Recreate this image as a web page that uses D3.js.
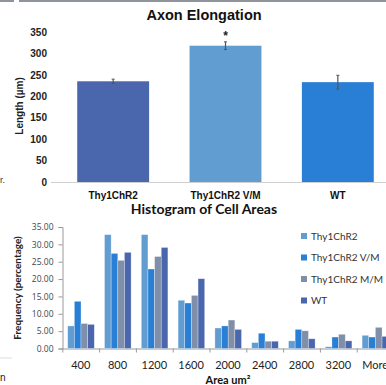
<!DOCTYPE html>
<html>
<head>
<meta charset="utf-8">
<script src="https://cdn.jsdelivr.net/npm/d3@7"></script>
<style>
  body { margin: 0; background: #fff; }
  svg { display: block; }
</style>
</head>
<body>
<svg id="vis" width="386" height="385"></svg>
<script>
// dados do grafico de cima
const grupos_axon = ["Thy1ChR2", "Thy1ChR2 V/M", "WT"];
const medias_axon = [235, 318, 233];
const erros_axon  = [5, 9, 16];
const cores_axon  = ["#4a66ac", "#629dd1", "#297fd5"];
const ticks_axon  = [0, 50, 100, 150, 200, 250, 300, 350];

// dados do histograma
const faixas = ["400", "800", "1200", "1600", "2000", "2400", "2800", "3200", "More"];
const series = ["Thy1ChR2", "Thy1ChR2 V/M", "Thy1ChR2 M/M", "WT"];
const freq_thy1   = [6.5, 32.8, 32.8, 13.9, 5.9, 1.7, 2.2, 0.5, 3.8];
const freq_vm     = [13.6, 27.4, 22.9, 13.1, 6.5, 4.4, 5.5, 3.3, 3.3];
const freq_mm     = [7.2, 25.4, 26.5, 15.3, 8.2, 2.1, 5.1, 4.1, 6.1];
const freq_wt     = [6.95, 27.7, 29.1, 20.1, 5.5, 2.1, 2.8, 2.2, 3.5];
const cores_hist  = ["#629dd1", "#297fd5", "#7f8fa9", "#4a66ac"];
const ticks_hist  = [0, 5, 10, 15, 20, 25, 30, 35];

const svg = d3.select("#vis");

// restos da captura de tela
svg.append("line").attr("x1", 0).attr("x2", 14).attr("y1", 1).attr("y2", 1)
  .attr("stroke", "#8e939c").attr("stroke-width", 2);
svg.append("line").attr("x1", 19).attr("x2", 386).attr("y1", 1).attr("y2", 1)
  .attr("stroke", "#8e939c").attr("stroke-width", 2);
svg.append("line").attr("x1", 0).attr("x2", 12).attr("y1", 358).attr("y2", 358)
  .attr("stroke", "#ddd").attr("stroke-width", 1);
svg.append("text").attr("x", 0).attr("y", 183).text("r.")
  .style("font", "9px 'Liberation Sans'").attr("fill", "#333");
svg.append("text").attr("x", 0).attr("y", 381).text("n")
  .style("font", "10px 'Liberation Sans'").attr("fill", "#222");

// ---------- Axon Elongation ----------
const g1 = svg.append("g").attr("class", "axon");

const x1 = d3.scaleBand().domain(grupos_axon).range([57, 394]).paddingInner(0.36).paddingOuter(0.18);
const y1 = d3.scaleLinear().domain([0, 350]).range([182, 32]);

g1.append("text")
  .attr("x", 204).attr("y", 20)
  .attr("text-anchor", "middle")
  .style("font", "bold 14.5px 'Liberation Sans', Arial")
  .attr("fill", "#111")
  .text("Axon Elongation");

const eixo_y1 = d3.axisLeft(y1).tickValues(ticks_axon).tickSize(0).tickPadding(10);
const $eixo_y1 = g1.append("g")
  .attr("transform", "translate(57,0)")
  .call(eixo_y1);
$eixo_y1.select(".domain").remove();
$eixo_y1.selectAll("text")
  .style("font", "bold 10px 'Liberation Sans', Arial")
  .attr("fill", "#222");

g1.append("line")
  .attr("x1", 51).attr("x2", 386)
  .attr("y1", y1(0) + 0.5).attr("y2", y1(0) + 0.5)
  .attr("stroke", "#d0d0d0");

g1.append("text")
  .attr("transform", "translate(23," + 106 + ") rotate(-90)")
  .attr("text-anchor", "middle")
  .style("font", "bold 10px 'Liberation Sans', Arial")
  .attr("fill", "#222")
  .text("Length (µm)");

g1.selectAll("rect.barra")
  .data(grupos_axon)
  .enter()
  .append("rect")
  .attr("class", "barra")
  .attr("x", d => x1(d))
  .attr("y", (d, i) => y1(medias_axon[i]))
  .attr("width", x1.bandwidth())
  .attr("height", (d, i) => y1(0) - y1(medias_axon[i]))
  .attr("fill", (d, i) => cores_axon[i]);

// barras de erro
const erro = g1.selectAll("g.erro")
  .data(grupos_axon)
  .enter()
  .append("g")
  .attr("class", "erro");
erro.append("line")
  .attr("x1", d => x1(d) + x1.bandwidth() / 2)
  .attr("x2", d => x1(d) + x1.bandwidth() / 2)
  .attr("y1", (d, i) => y1(medias_axon[i] + erros_axon[i]))
  .attr("y2", (d, i) => y1(medias_axon[i] - erros_axon[i]))
  .attr("stroke", "#555").attr("stroke-width", 1.2);
erro.append("line")
  .attr("x1", d => x1(d) + x1.bandwidth() / 2 - 1.5)
  .attr("x2", d => x1(d) + x1.bandwidth() / 2 + 1.5)
  .attr("y1", (d, i) => y1(medias_axon[i] + erros_axon[i]))
  .attr("y2", (d, i) => y1(medias_axon[i] + erros_axon[i]))
  .attr("stroke", "#555");
erro.append("line")
  .attr("x1", d => x1(d) + x1.bandwidth() / 2 - 1.5)
  .attr("x2", d => x1(d) + x1.bandwidth() / 2 + 1.5)
  .attr("y1", (d, i) => y1(medias_axon[i] - erros_axon[i]))
  .attr("y2", (d, i) => y1(medias_axon[i] - erros_axon[i]))
  .attr("stroke", "#555");

g1.append("text")
  .attr("x", x1("Thy1ChR2 V/M") + x1.bandwidth() / 2)
  .attr("y", y1(318 + 9) - 2)
  .attr("text-anchor", "middle")
  .style("font", "bold 12px 'Liberation Sans', Arial")
  .attr("fill", "#222")
  .text("*");

g1.selectAll("text.cat")
  .data(grupos_axon)
  .enter()
  .append("text")
  .attr("class", "cat")
  .attr("x", d => x1(d) + x1.bandwidth() / 2)
  .attr("y", 199)
  .attr("text-anchor", "middle")
  .style("font", "bold 10px 'Liberation Sans', Arial")
  .attr("fill", "#111")
  .text(d => d);

// ---------- Histogram of Cell Areas ----------
const g2 = svg.append("g").attr("class", "hist");

const x2 = d3.scaleBand().domain(faixas).range([62.3, 393.5]);
const xs = d3.scaleBand().domain(series).range([5.4, x2.bandwidth() - 4.8]);
const y2 = d3.scaleLinear().domain([0, 35]).range([348.5, 227]);

const dados_hist = [freq_thy1, freq_vm, freq_mm, freq_wt];

g2.append("text")
  .attr("x", 204).attr("y", 214)
  .attr("text-anchor", "middle")
  .style("font", "bold 14px Lato, 'Open Sans'")
  .attr("fill", "#111")
  .text("Histogram of Cell Areas");

const eixo_y2 = d3.axisLeft(y2).tickValues(ticks_hist).tickSize(4).tickPadding(5)
  .tickFormat(d3.format(".2f"));
const $eixo_y2 = g2.append("g")
  .attr("transform", "translate(62.5,0)")
  .call(eixo_y2);
$eixo_y2.select(".domain").attr("stroke", "#999");
$eixo_y2.selectAll(".tick line").attr("stroke", "#999");
$eixo_y2.selectAll("text")
  .style("font", "8.5px 'Open Sans', Lato")
  .attr("fill", "#444");

const eixo_x2 = d3.axisBottom(x2).tickSize(0).tickPadding(13);
const $eixo_x2 = g2.append("g")
  .attr("transform", "translate(0," + y2(0) + ")")
  .call(eixo_x2);
$eixo_x2.select(".domain").attr("stroke", "#999");
$eixo_x2.selectAll("text")
  .style("font", "11px Lato, 'Open Sans'")
  .attr("fill", "#222");
// marcas entre as faixas
g2.selectAll("line.div")
  .data(faixas)
  .enter()
  .append("line")
  .attr("class", "div")
  .attr("x1", d => x2(d) + 0.5).attr("x2", d => x2(d) + 0.5)
  .attr("y1", y2(0)).attr("y2", y2(0) + 4)
  .attr("stroke", "#999");

series.forEach((s, si) => {
  g2.selectAll("rect.s" + si)
    .data(faixas)
    .enter()
    .append("rect")
    .attr("class", "s" + si)
    .attr("x", d => x2(d) + xs(s))
    .attr("y", (d, i) => y2(dados_hist[si][i]))
    .attr("width", xs.bandwidth())
    .attr("height", (d, i) => y2(0) - y2(dados_hist[si][i]))
    .attr("fill", cores_hist[si])
    .attr("stroke", "#fff")
    .attr("stroke-opacity", 0.5)
    .attr("stroke-width", 0.6);
});

g2.append("text")
  .attr("transform", "translate(21,288) rotate(-90)")
  .attr("text-anchor", "middle")
  .style("font", "bold 10px Lato, 'Open Sans'")
  .attr("fill", "#222")
  .text("Frequency (percentage)");

g2.append("text")
  .attr("x", 228).attr("y", 384)
  .attr("text-anchor", "middle")
  .style("font", "bold 11px Lato, 'Open Sans'")
  .attr("fill", "#111")
  .text("Area um²");

// legenda
const legenda = g2.selectAll("g.leg")
  .data(series)
  .enter()
  .append("g")
  .attr("class", "leg")
  .attr("transform", (d, i) => "translate(301," + (233 + i * 21.5) + ")");
legenda.append("rect")
  .attr("width", 6).attr("height", 6)
  .attr("fill", (d, i) => cores_hist[i]);
legenda.append("text")
  .attr("x", 10).attr("y", 6.5)
  .style("font", "10px Lato, 'Open Sans'")
  .attr("fill", "#333")
  .text(d => d);
</script>
</body>
</html>
